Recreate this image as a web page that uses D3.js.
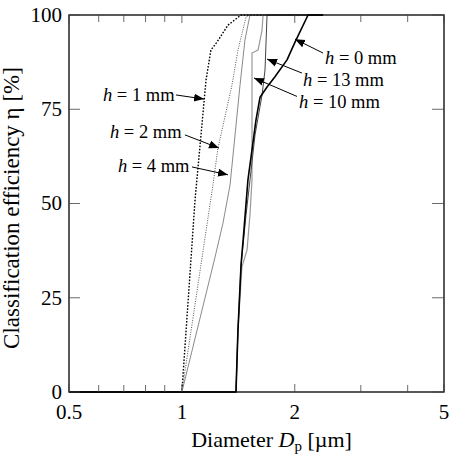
<!DOCTYPE html>
<html>
<head>
<meta charset="utf-8">
<script src="https://cdn.jsdelivr.net/npm/d3@7/dist/d3.min.js"></script>
<style>
  html, body { margin: 0; padding: 0; background: #fff; }
  svg { display: block; font-family: "Liberation Serif", "DejaVu Serif", serif; }
</style>
</head>
<body>
<div id="chart"></div>
<script>
// ── Data ──────────────────────────────────────────────────────────────────────
// diameter Dp [µm] and classification efficiency η [%] for each gap h
var h1X  = [0.5, 1.0, 1.084, 1.16, 1.195, 1.24, 1.327, 1.438, 2.38];
var h1Y  = [0, 0, 50.9, 82.8, 90.7, 92.8, 97.3, 100, 100];

var h2X  = [0.5, 1.0, 1.21, 1.248, 1.36, 1.411, 1.483, 1.519, 2.38];
var h2Y  = [0, 0, 54.9, 64.7, 81.4, 90.7, 99.5, 100, 100];

var h4X  = [0.5, 1.0, 1.226, 1.287, 1.344, 1.429, 1.473, 1.519, 2.38];
var h4Y  = [0, 0, 35.8, 44.8, 54.9, 81.4, 93.4, 100, 100];

var h10X = [0.5, 1.394, 1.411, 1.446, 1.492, 1.519, 1.538, 1.538, 1.596, 1.636, 1.646, 2.38];
var h10Y = [0, 0, 16.4, 33.2, 37.7, 47, 56.2, 89.9, 90.7, 96, 100, 100];

var h13X = [0.5, 1.394, 1.411, 1.438, 1.483, 1.519, 1.567, 1.636, 1.666, 1.687, 2.38];
var h13Y = [0, 0, 16.4, 33.7, 47, 56.2, 68.2, 78.8, 85.4, 100, 100];

var h0X  = [0.5, 1.394, 1.411, 1.438, 1.464, 1.5, 1.538, 1.576, 1.616, 1.687, 1.771, 1.907, 2.003, 2.17, 2.38];
var h0Y  = [0, 0, 16.4, 33.7, 43, 56.2, 64.2, 72.1, 78.2, 80.9, 83.6, 88.1, 92.8, 100, 100];

var xMajor = [0.5, 1, 2, 5];
var xMinor = [0.6, 0.7, 0.8, 0.9, 3, 4];
var yTicks = [0, 25, 50, 75, 100];

// label text, text anchor, arrow tail, arrow tip (all in data units)
var labelText = ['1', '2', '4', '0', '13', '10'];
var labelPos  = [[0.616, 78.8], [0.643, 69.0], [0.675, 60.2], [2.408, 88.6], [2.104, 82.9], [2.053, 77.1]];
var arrowFrom = [[0.964, 78.8], [1.019, 68.2], [1.064, 59.7], [2.38, 89.9], [2.09, 84.6], [2.027, 78.4]];
var arrowTo   = [[1.146, 77.7], [1.256, 64.7], [1.327, 57.6], [2.003, 93.6], [1.687, 88.3], [1.557, 83.3]];

// ── Layout ────────────────────────────────────────────────────────────────────
var W = 451, H = 460;
var L = 69, R = 444, T = 15, B = 392;

var svg = d3.select('#chart').append('svg')
    .attr('width', W).attr('height', H);

var x = d3.scaleLog().domain([0.5, 5]).range([L, R]);
var y = d3.scaleLinear().domain([0, 100]).range([B, T]);

function zipXY(xs, ys) {
    return xs.map(function (v, i) { return [v, ys[i]]; });
}

var series = [
    { data: zipXY(h1X,  h1Y),  color: '#000', width: 1.4, dash: '1.6,1.6' },
    { data: zipXY(h2X,  h2Y),  color: '#555', width: 1.0, dash: '1,1.4' },
    { data: zipXY(h4X,  h4Y),  color: '#8a8a8a', width: 1.0, dash: null },
    { data: zipXY(h10X, h10Y), color: '#999', width: 1.2, dash: null },
    { data: zipXY(h13X, h13Y), color: '#444', width: 1.0, dash: null },
    { data: zipXY(h0X,  h0Y),  color: '#000', width: 1.6, dash: null }
];

var line = d3.line()
    .x(function (d) { return x(d[0]); })
    .y(function (d) { return y(d[1]); });

var plot = svg.append('g');
series.forEach(function (s) {
    plot.append('path')
        .datum(s.data)
        .attr('fill', 'none')
        .attr('stroke', s.color)
        .attr('stroke-width', s.width)
        .attr('stroke-dasharray', s.dash)
        .attr('stroke-linejoin', 'round')
        .attr('d', line);
});

// ── Frame and ticks (inward, on all four sides) ───────────────────────────────
var axes = svg.append('g').attr('stroke', '#000');

axes.append('rect')
    .attr('x', L).attr('y', T).attr('width', R - L).attr('height', B - T)
    .attr('fill', 'none').attr('stroke-width', 1.3);

xMajor.concat(xMinor).forEach(function (v) {
    var len = xMajor.indexOf(v) >= 0 ? 8 : 7;
    axes.append('line').attr('x1', x(v)).attr('x2', x(v))
        .attr('y1', B).attr('y2', B - len).attr('stroke-width', 0.8).attr('stroke', '#444');
    axes.append('line').attr('x1', x(v)).attr('x2', x(v))
        .attr('y1', T).attr('y2', T + len).attr('stroke-width', 0.8).attr('stroke', '#444');
});

yTicks.forEach(function (v) {
    axes.append('line').attr('x1', L).attr('x2', L + 11)
        .attr('y1', y(v)).attr('y2', y(v)).attr('stroke-width', 0.8).attr('stroke', '#444');
    axes.append('line').attr('x1', R).attr('x2', R - 12)
        .attr('y1', y(v)).attr('y2', y(v)).attr('stroke-width', 0.8).attr('stroke', '#444');
});

// tick labels
svg.append('g').selectAll('text').data(xMajor).enter().append('text')
    .attr('x', function (d) { return x(d); })
    .attr('y', B + 27)
    .attr('text-anchor', 'middle')
    .attr('font-size', 21)
    .text(function (d) { return d; });

svg.append('g').selectAll('text').data(yTicks).enter().append('text')
    .attr('x', L - 7)
    .attr('y', function (d) { return y(d); })
    .attr('dy', '0.33em')
    .attr('text-anchor', 'end')
    .attr('font-size', 21)
    .text(function (d) { return d; });

// axis titles
var xt = svg.append('text')
    .attr('x', (L + R) / 2 + 15).attr('y', 447)
    .attr('text-anchor', 'middle')
    .attr('font-size', 22);
xt.append('tspan').text('Diameter ');
xt.append('tspan').attr('font-style', 'italic').text('D');
xt.append('tspan').attr('font-size', 15).attr('dy', 4).text('p');
xt.append('tspan').attr('dy', -4).text(' [\u00b5m]');

svg.append('text')
    .attr('transform', 'translate(19,' + 208 + ') rotate(-90)')
    .attr('text-anchor', 'middle')
    .attr('font-size', 23)
    .text('Classification efficiency \u03b7 [%]');

// ── Annotations ───────────────────────────────────────────────────────────────
svg.append('defs').append('marker')
    .attr('id', 'arrow')
    .attr('viewBox', '0 0 10 10')
    .attr('refX', 10).attr('refY', 5)
    .attr('markerWidth', 10).attr('markerHeight', 10)
    .attr('markerUnits', 'userSpaceOnUse')
    .attr('orient', 'auto')
    .append('path').attr('d', 'M0,1 L10,5 L0,9 Z').attr('fill', '#000');

labelText.forEach(function (t, i) {
    var txt = svg.append('text')
        .attr('x', x(labelPos[i][0])).attr('y', y(labelPos[i][1]))
        .attr('dy', '0.35em')
        .attr('font-size', 18.5);
    txt.append('tspan').attr('font-style', 'italic').text('h');
    txt.append('tspan').text(' = ' + t + ' mm');

    svg.append('line')
        .attr('x1', x(arrowFrom[i][0])).attr('y1', y(arrowFrom[i][1]))
        .attr('x2', x(arrowTo[i][0])).attr('y2', y(arrowTo[i][1]))
        .attr('stroke', '#000').attr('stroke-width', 1)
        .attr('marker-end', 'url(#arrow)');
});
</script>
</body>
</html>
